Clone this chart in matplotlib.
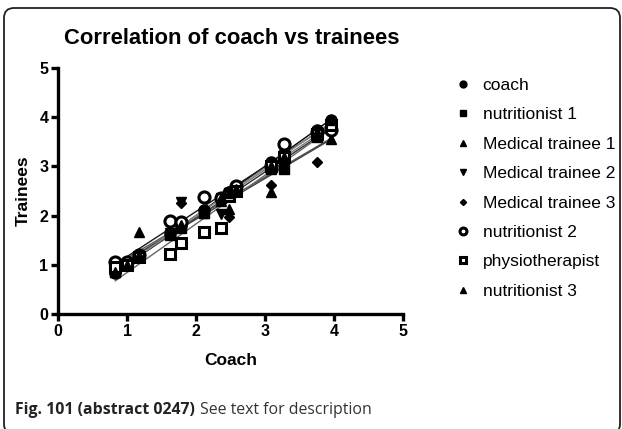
import numpy as np
import matplotlib
matplotlib.use("Agg")
import matplotlib.pyplot as plt
from matplotlib.patches import FancyBboxPatch

# Coach scores (x) and each rater's score for the same item (y)
coach_scores = [0.83, 1.00, 1.17, 1.63, 1.78, 2.12, 2.36, 2.48, 2.58, 3.09, 3.28, 3.75, 3.95]

series_names = ["coach", "nutritionist 1", "Medical trainee 1", "Medical trainee 2",
                "Medical trainee 3", "nutritionist 2", "physiotherapist", "nutritionist 3"]

coach = [0.83, 1.00, 1.17, 1.63, 1.78, 2.12, 2.36, 2.48, 2.58, 3.09, 3.28, 3.75, 3.95]
nutritionist_1 = [0.85, 1.00, 1.15, 1.60, 1.75, 2.05, 2.35, 2.45, 2.55, 2.95, 2.95, 3.60, 3.85]
medical_trainee_1 = [0.90, 1.00, 1.67, 1.65, 1.80, 2.05, 2.30, 2.14, 2.50, 2.48, 3.10, 3.65, 3.56]
medical_trainee_2 = [0.90, 1.00, 1.15, 1.65, 2.28, 2.05, 2.04, 2.45, 2.55, 2.95, 3.15, 3.70, 3.85]
medical_trainee_3 = [0.88, 1.00, 1.15, 1.60, 2.25, 2.05, 2.30, 1.97, 2.55, 2.62, 3.10, 3.09, 3.80]
nutritionist_2 = [1.06, 1.05, 1.20, 1.89, 1.88, 2.38, 2.35, 2.45, 2.60, 3.00, 3.46, 3.70, 3.73]
physiotherapist = [0.95, 1.00, 1.15, 1.22, 1.45, 1.67, 1.74, 2.40, 2.50, 3.00, 3.20, 3.65, 3.85]
nutritionist_3 = [0.85, 1.00, 1.20, 1.65, 1.80, 2.10, 2.35, 2.45, 2.55, 3.00, 3.20, 3.70, 3.95]

all_series = [coach, nutritionist_1, medical_trainee_1, medical_trainee_2,
              medical_trainee_3, nutritionist_2, physiotherapist, nutritionist_3]

x_ticks = [0, 1, 2, 3, 4, 5]
y_ticks = [0, 1, 2, 3, 4, 5]

# marker style per rater: (marker, filled?, size)
styles = [("o", True, 8), ("s", True, 6.5), ("^", True, 6.5), ("v", True, 6.5),
          ("D", True, 5), ("o", False, 8), ("s", False, 7), ("^", True, 7.5)]
line_colors = ["#000000", "#303030", "#555555", "#7a7a7a",
               "#404040", "#1a1a1a", "#666666", "#8a8a8a"]

plt.rcParams["font.family"] = ["Liberation Sans", "DejaVu Sans"]

fig = plt.figure(figsize=(6.22, 4.29), dpi=100)
ax = fig.add_axes([58 / 622, 1 - 314 / 429, (403 - 58) / 622, (314 - 68) / 429])

x = np.array(coach_scores)
handles = []
for name, ys, (mk, filled, ms), lc in zip(series_names, all_series, styles, line_colors):
    ys = np.array(ys)
    slope, intercept = np.polyfit(x, ys, 1)
    xs = np.array([x.min(), x.max()])
    ax.plot(xs, slope * xs + intercept, color=lc, lw=1.0, zorder=2)
    h, = ax.plot(x, ys, linestyle="none", marker=mk, markersize=ms,
                 markerfacecolor="black" if filled else "white",
                 markeredgecolor="black", markeredgewidth=1.0 if filled else 2.2,
                 zorder=3, label=name)
    handles.append(h)

ax.set_xlim(0, 5)
ax.set_ylim(0, 5)
ax.set_xticks(x_ticks)
ax.set_yticks(y_ticks)
for side in ("top", "right"):
    ax.spines[side].set_visible(False)
for side in ("left", "bottom"):
    ax.spines[side].set_linewidth(2.4)
ax.tick_params(axis="both", direction="out", length=5, width=2.4,
               labelsize=11.5, pad=2)
for lab in ax.get_xticklabels() + ax.get_yticklabels():
    lab.set_fontweight("bold")

ax.set_xlabel("Coach", fontsize=12.5, fontweight="bold", labelpad=10)
ax.set_ylabel("Trainees", fontsize=12.5, fontweight="bold", labelpad=6)
fig.text(232 / 622, 1 - 38 / 429, "Correlation of coach vs trainees",
         ha="center", va="center", fontsize=15.8, fontweight="bold")

leg = fig.legend(handles=handles, loc="upper left",
                 bbox_to_anchor=(447 / 622, 1 - 71 / 429), frameon=False,
                 fontsize=12.5, markerscale=0.62, handlelength=1.0,
                 handletextpad=0.65, labelspacing=0.82, borderaxespad=0)

# caption under the chart
t1 = fig.text(15 / 622, 1 - 414 / 429, "Fig. 101 (abstract 0247)",
              fontsize=11.4, fontweight="bold", family="Open Sans",
              color="#222222", va="baseline")
fig.canvas.draw()
bb = t1.get_window_extent()
fig.text((bb.x1 + 5) / 622, 1 - 414 / 429, "See text for description",
         fontsize=11.4, family="Open Sans", color="#333333", va="baseline")

# rounded outer frame
frame = FancyBboxPatch((0.04, -0.05), 6.16, 4.26,
                       boxstyle="round,pad=0,rounding_size=0.1",
                       transform=fig.dpi_scale_trans, fill=False,
                       edgecolor="#222222", linewidth=1.3)
fig.patches.append(frame)

fig.savefig("out.png", dpi=100)
